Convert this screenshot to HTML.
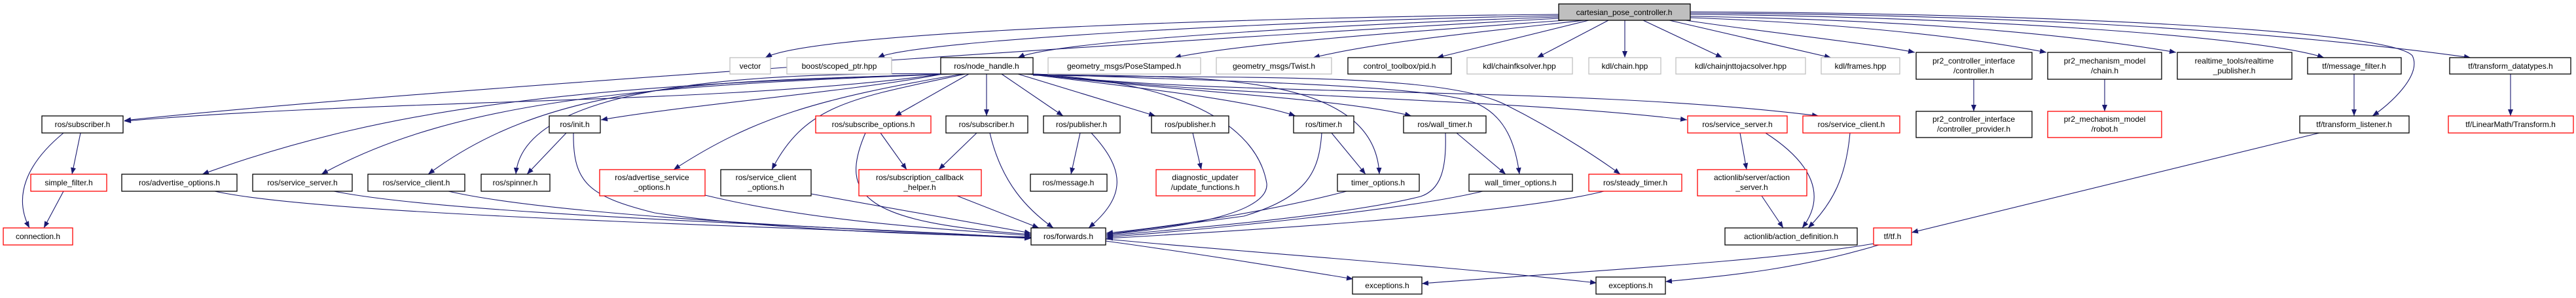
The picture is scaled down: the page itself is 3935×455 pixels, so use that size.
<!DOCTYPE html>
<html><head><meta charset="utf-8"><style>
html,body{margin:0;padding:0;background:#fff;}
svg{display:block;}
text{font-family:"Liberation Sans",sans-serif;font-size:12px;fill:#000;}
.e{fill:none;stroke:#191970;stroke-width:1.1;marker-end:url(#a);}
</style></head><body>
<svg width="3935" height="455" viewBox="0 0 3935 455" xmlns="http://www.w3.org/2000/svg">
<defs><marker id="a" markerUnits="userSpaceOnUse" markerWidth="11" markerHeight="8" refX="10" refY="4" orient="auto"><path d="M0,0 L10,4 L0,8 z" fill="#191970"/></marker></defs>
<g>
<!-- cartesian edges -->
<path class="e" d="M2381,22 C2000,25 1250,45 1169,88"/>
<path class="e" d="M2381,24 C2000,30 1400,60 1341,88"/>
<path class="e" d="M2381,26 C2100,35 1620,60 1555,88"/>
<path class="e" d="M2390,31 C2200,45 1900,65 1794,88"/>
<path class="e" d="M2420,31 C2250,50 2100,65 2006,88"/>
<path class="e" d="M2427,31 L2195,88"/>
<path class="e" d="M2457,31 L2348,88"/>
<path class="e" d="M2482,31 L2482,88"/>
<path class="e" d="M2510,31 L2631,88"/>
<path class="e" d="M2550,31 L2797,88"/>
<path class="e" d="M2575,31 C2700,50 2850,65 2925,80"/>
<path class="e" d="M2582,27 C2800,35 3000,55 3126,80"/>
<path class="e" d="M2582,25 C2900,30 3150,50 3324,80"/>
<path class="e" d="M2582,22 C3000,25 3450,55 3550,88"/>
<path class="e" d="M2582,20 C3100,22 3500,50 3774,88"/>
<path class="e" d="M2582,18 C3100,20 3650,45 3685,85 C3700,115 3650,160 3624,177"/>
<!-- node_handle edges -->
<path class="e" d="M1440,113 C1100,160 600,150 190,185"/>
<path class="e" d="M2381,28 C1800,60 600,140 190,184"/>
<path class="e" d="M1440,113 C1300,140 1050,160 918,183"/>
<path class="e" d="M1445,113 C900,130 600,160 309,266"/>
<path class="e" d="M1450,113 C1000,130 700,150 491,266"/>
<path class="e" d="M1455,113 C1100,125 850,120 654,266"/>
<path class="e" d="M1460,113 C1200,110 800,120 788,266"/>
<path class="e" d="M1470,113 C1250,150 1150,180 1029,259"/>
<path class="e" d="M1475,113 C1300,150 1230,160 1179,259"/>
<path class="e" d="M1480,113 L1367,177"/>
<path class="e" d="M1507,113 L1507,177"/>
<path class="e" d="M1530,113 L1624,177"/>
<path class="e" d="M1555,113 L1765,177"/>
<path class="e" d="M1570,113 C1700,130 1900,150 1979,177"/>
<path class="e" d="M1575,113 C1800,140 2050,150 2156,177"/>
<path class="e" d="M1575,113 C1800,120 2100,100 2107,266"/>
<path class="e" d="M1578,113 C1900,125 2200,130 2260,160 C2300,180 2315,220 2321,266"/>
<path class="e" d="M1578,115 C1900,120 2200,110 2300,160 C2400,210 2475,266 2475,266"/>
<path class="e" d="M1578,113 C1900,150 2300,150 2577,183"/>
<path class="e" d="M1578,113 C1900,150 2400,130 2778,177"/>
<path class="e" d="M1560,113 C1800,120 1920,190 1935,280 C1940,330 1780,350 1690,358"/>
<!-- lower edges -->
<path class="e" d="M97,203 C40,250 20,300 45,348"/>
<path class="e" d="M123,203 L110,266"/>
<path class="e" d="M97,292 L67,348"/>
<path class="e" d="M865,203 L805,266"/>
<path class="e" d="M876,203 C875,280 900,300 1000,325 C1200,355 1500,360 1575,362"/>
<path class="e" d="M328,292 C500,330 1200,345 1575,364"/>
<path class="e" d="M510,292 C700,330 1300,345 1575,364"/>
<path class="e" d="M685,292 C850,330 1300,350 1575,363"/>
<path class="e" d="M1077,298 C1250,340 1450,350 1575,360"/>
<path class="e" d="M1239,296 L1575,356"/>
<path class="e" d="M1345,203 L1385,259"/>
<path class="e" d="M1322,203 C1280,300 1320,340 1575,358"/>
<path class="e" d="M1492,203 L1434,259"/>
<path class="e" d="M1512,203 C1530,280 1570,320 1609,348"/>
<path class="e" d="M1462,299 L1587,348"/>
<path class="e" d="M1650,203 L1636,266"/>
<path class="e" d="M1667,203 C1720,260 1720,300 1663,348"/>
<path class="e" d="M1822,203 L1835,259"/>
<path class="e" d="M2034,203 L2086,266"/>
<path class="e" d="M2019,203 C2015,260 2000,300 1900,330 L1690,358"/>
<path class="e" d="M2225,203 L2300,266"/>
<path class="e" d="M2208,203 C2210,260 2200,290 2170,300 C2050,330 1800,350 1690,360"/>
<path class="e" d="M2057,292 C1950,320 1800,345 1690,356"/>
<path class="e" d="M2265,292 C2150,320 1850,350 1690,362"/>
<path class="e" d="M2450,292 C2300,330 1850,355 1690,364"/>
<path class="e" d="M2658,203 L2668,259"/>
<path class="e" d="M2697,203 C2770,250 2790,300 2753,348"/>
<path class="e" d="M2826,203 C2820,270 2800,310 2762,348"/>
<path class="e" d="M2691,299 L2724,348"/>
<path class="e" d="M3015,121 L3015,170"/>
<path class="e" d="M3215,121 L3215,170"/>
<path class="e" d="M3596,113 L3596,177"/>
<path class="e" d="M3835,113 L3835,177"/>
<path class="e" d="M3543,203 L2920,355"/>
<path class="e" d="M2862,372 C2700,400 2400,415 2172,433"/>
<path class="e" d="M2870,374 C2750,410 2650,420 2544,430"/>
<path class="e" d="M1689,368 C1850,390 2000,415 2067,426"/>
<path class="e" d="M1689,365 C1900,385 2200,405 2439,432"/>
</g>
<g stroke-width="1.3" fill="#fff">
<!-- top -->
<rect x="2381" y="6" width="201" height="25" fill="#bfbfbf" stroke="#000"/>
<rect x="1115" y="88" width="62" height="25" stroke="#bfbfbf"/>
<rect x="1202" y="88" width="160" height="25" stroke="#bfbfbf"/>
<rect x="1437" y="88" width="141" height="25" stroke="#000"/>
<rect x="1601" y="88" width="233" height="25" stroke="#bfbfbf"/>
<rect x="1858" y="88" width="176" height="25" stroke="#bfbfbf"/>
<rect x="2059" y="88" width="158" height="25" stroke="#000"/>
<rect x="2241" y="88" width="161" height="25" stroke="#bfbfbf"/>
<rect x="2427" y="88" width="110" height="25" stroke="#bfbfbf"/>
<rect x="2560" y="88" width="198" height="25" stroke="#bfbfbf"/>
<rect x="2782" y="88" width="120" height="25" stroke="#bfbfbf"/>
<rect x="2927" y="80" width="177" height="41" stroke="#000"/>
<rect x="3128" y="80" width="174" height="41" stroke="#000"/>
<rect x="3326" y="80" width="175" height="41" stroke="#000"/>
<rect x="3525" y="88" width="143" height="25" stroke="#000"/>
<rect x="3742" y="88" width="185" height="25" stroke="#000"/>
<!-- row 2 -->
<rect x="64" y="177" width="124" height="26" stroke="#000"/>
<rect x="839" y="177" width="78" height="26" stroke="#000"/>
<rect x="1246" y="177" width="176" height="26" stroke="#f00"/>
<rect x="1445" y="177" width="125" height="26" stroke="#000"/>
<rect x="1594" y="177" width="117" height="26" stroke="#000"/>
<rect x="1759" y="177" width="118" height="26" stroke="#000"/>
<rect x="1976" y="177" width="92" height="26" stroke="#000"/>
<rect x="2144" y="177" width="126" height="26" stroke="#000"/>
<rect x="2578" y="177" width="152" height="26" stroke="#f00"/>
<rect x="2754" y="177" width="148" height="26" stroke="#f00"/>
<rect x="2927" y="170" width="177" height="40" stroke="#000"/>
<rect x="3128" y="170" width="174" height="40" stroke="#f00"/>
<rect x="3513" y="177" width="167" height="26" stroke="#000"/>
<rect x="3740" y="177" width="191" height="26" stroke="#f00"/>
<!-- row 3 -->
<rect x="47" y="266" width="116" height="26" stroke="#f00"/>
<rect x="186" y="266" width="176" height="26" stroke="#000"/>
<rect x="386" y="266" width="152" height="26" stroke="#000"/>
<rect x="562" y="266" width="148" height="26" stroke="#000"/>
<rect x="735" y="266" width="105" height="26" stroke="#000"/>
<rect x="916" y="259" width="161" height="40" stroke="#f00"/>
<rect x="1101" y="259" width="138" height="40" stroke="#000"/>
<rect x="1312" y="259" width="187" height="40" stroke="#f00"/>
<rect x="1574" y="266" width="117" height="26" stroke="#000"/>
<rect x="1766" y="259" width="151" height="40" stroke="#f00"/>
<rect x="2043" y="266" width="125" height="26" stroke="#000"/>
<rect x="2244" y="266" width="158" height="26" stroke="#000"/>
<rect x="2427" y="266" width="142" height="26" stroke="#f00"/>
<rect x="2593" y="259" width="167" height="40" stroke="#f00"/>
<!-- row 4 -->
<rect x="5" y="348" width="106" height="26" stroke="#f00"/>
<rect x="1575" y="348" width="114" height="26" stroke="#000"/>
<rect x="2635" y="348" width="202" height="26" stroke="#000"/>
<rect x="2862" y="348" width="58" height="26" stroke="#f00"/>
<rect x="2066" y="423" width="106" height="26" stroke="#000"/>
<rect x="2438" y="423" width="106" height="26" stroke="#000"/>
</g>
<g text-anchor="middle">
<text x="2481" y="23">cartesian_pose_controller.h</text>
<text x="1146" y="105">vector</text>
<text x="1282" y="105">boost/scoped_ptr.hpp</text>
<text x="1507" y="105">ros/node_handle.h</text>
<text x="1717" y="105">geometry_msgs/PoseStamped.h</text>
<text x="1946" y="105">geometry_msgs/Twist.h</text>
<text x="2138" y="105">control_toolbox/pid.h</text>
<text x="2321" y="105">kdl/chainfksolver.hpp</text>
<text x="2482" y="105">kdl/chain.hpp</text>
<text x="2659" y="105">kdl/chainjnttojacsolver.hpp</text>
<text x="2842" y="105">kdl/frames.hpp</text>
<text x="3015" y="97">pr2_controller_interface</text><text x="3015" y="112">/controller.h</text>
<text x="3215" y="97">pr2_mechanism_model</text><text x="3215" y="112">/chain.h</text>
<text x="3413" y="97">realtime_tools/realtime</text><text x="3413" y="112">_publisher.h</text>
<text x="3596" y="105">tf/message_filter.h</text>
<text x="3835" y="105">tf/transform_datatypes.h</text>
<text x="126" y="194">ros/subscriber.h</text>
<text x="878" y="194">ros/init.h</text>
<text x="1334" y="194">ros/subscribe_options.h</text>
<text x="1507" y="194">ros/subscriber.h</text>
<text x="1652" y="194">ros/publisher.h</text>
<text x="1818" y="194">ros/publisher.h</text>
<text x="2022" y="194">ros/timer.h</text>
<text x="2207" y="194">ros/wall_timer.h</text>
<text x="2654" y="194">ros/service_server.h</text>
<text x="2828" y="194">ros/service_client.h</text>
<text x="3015" y="186">pr2_controller_interface</text><text x="3015" y="201">/controller_provider.h</text>
<text x="3215" y="186">pr2_mechanism_model</text><text x="3215" y="201">/robot.h</text>
<text x="3596" y="194">tf/transform_listener.h</text>
<text x="3835" y="194">tf/LinearMath/Transform.h</text>
<text x="105" y="283">simple_filter.h</text>
<text x="274" y="283">ros/advertise_options.h</text>
<text x="462" y="283">ros/service_server.h</text>
<text x="636" y="283">ros/service_client.h</text>
<text x="787" y="283">ros/spinner.h</text>
<text x="996" y="275">ros/advertise_service</text><text x="996" y="290">_options.h</text>
<text x="1170" y="275">ros/service_client</text><text x="1170" y="290">_options.h</text>
<text x="1405" y="275">ros/subscription_callback</text><text x="1405" y="290">_helper.h</text>
<text x="1632" y="283">ros/message.h</text>
<text x="1841" y="275">diagnostic_updater</text><text x="1841" y="290">/update_functions.h</text>
<text x="2105" y="283">timer_options.h</text>
<text x="2323" y="283">wall_timer_options.h</text>
<text x="2498" y="283">ros/steady_timer.h</text>
<text x="2676" y="275">actionlib/server/action</text><text x="2676" y="290">_server.h</text>
<text x="58" y="365">connection.h</text>
<text x="1632" y="365">ros/forwards.h</text>
<text x="2736" y="365">actionlib/action_definition.h</text>
<text x="2891" y="365">tf/tf.h</text>
<text x="2119" y="440">exceptions.h</text>
<text x="2491" y="440">exceptions.h</text>
</g>
</svg>
</body></html>
